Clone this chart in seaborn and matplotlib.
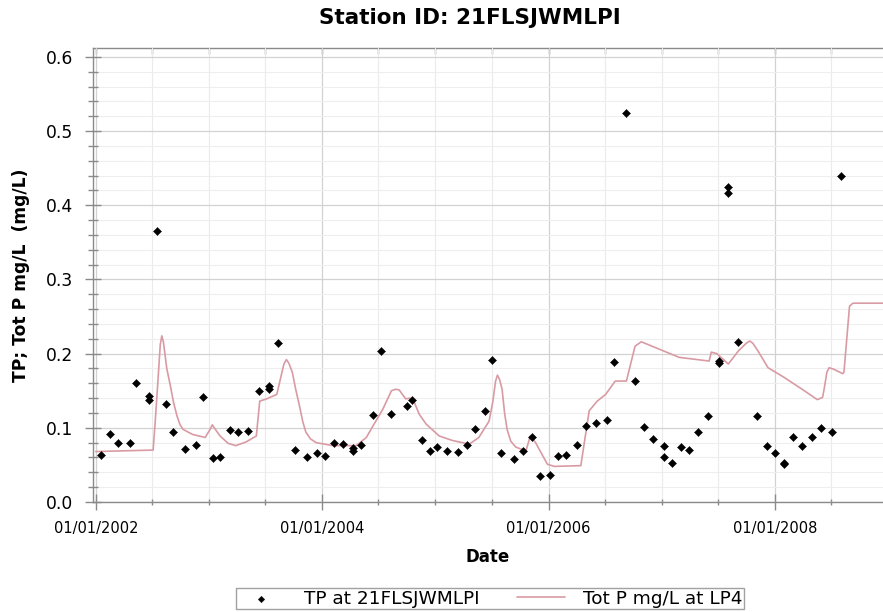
import numpy as np
import pandas as pd
import matplotlib
matplotlib.use("Agg")
import matplotlib.pyplot as plt
import matplotlib.dates as mdates
from matplotlib.ticker import MultipleLocator, FormatStrFormatter
import seaborn as sns

# ---------------- data ----------------
obs_dates = [
    "2002-01-19", "2002-02-15", "2002-03-15", "2002-04-20", "2002-05-12",
    "2002-06-21", "2002-06-21", "2002-07-18", "2002-08-15", "2002-09-06",
    "2002-10-16", "2002-11-21", "2002-12-13", "2003-01-15", "2003-02-06",
    "2003-03-11", "2003-04-05", "2003-05-08", "2003-06-10", "2003-07-13",
    "2003-07-13", "2003-08-11", "2003-10-05", "2003-11-14", "2003-12-17",
    "2004-01-12", "2004-02-10", "2004-03-10", "2004-04-09", "2004-04-09",
    "2004-05-07", "2004-06-14", "2004-07-08", "2004-08-12", "2004-09-30",
    "2004-10-18", "2004-11-18", "2004-12-14", "2005-01-06", "2005-02-08",
    "2005-03-15", "2005-04-13", "2005-05-09", "2005-06-10", "2005-07-04",
    "2005-08-01", "2005-09-10", "2005-10-11", "2005-11-08", "2005-12-03",
    "2006-01-06", "2006-01-30", "2006-02-26", "2006-04-02", "2006-05-01",
    "2006-06-03", "2006-07-08", "2006-07-31", "2006-09-08", "2006-10-07",
    "2006-11-05", "2006-12-03", "2007-01-08", "2007-01-08", "2007-02-03",
    "2007-03-04", "2007-03-29", "2007-04-27", "2007-05-30", "2007-07-06",
    "2007-07-06", "2007-08-03", "2007-08-03", "2007-09-03", "2007-11-03",
    "2007-12-06", "2008-01-01", "2008-01-30", "2008-01-30", "2008-03-01",
    "2008-03-28", "2008-05-01", "2008-05-28", "2008-07-02", "2008-07-31",
]
obs_tp = [
    0.063, 0.091, 0.079, 0.080, 0.161,
    0.143, 0.138, 0.365, 0.132, 0.094,
    0.071, 0.077, 0.141, 0.059, 0.060,
    0.097, 0.095, 0.096, 0.150, 0.157,
    0.152, 0.214, 0.070, 0.061, 0.066,
    0.062, 0.079, 0.078, 0.073, 0.069,
    0.077, 0.117, 0.204, 0.119, 0.130,
    0.138, 0.084, 0.069, 0.074, 0.069,
    0.068, 0.077, 0.098, 0.122, 0.191,
    0.066, 0.058, 0.069, 0.088, 0.035,
    0.037, 0.062, 0.064, 0.077, 0.102,
    0.107, 0.110, 0.189, 0.524, 0.163,
    0.101, 0.085, 0.075, 0.061, 0.053,
    0.074, 0.070, 0.095, 0.116, 0.190,
    0.187, 0.425, 0.417, 0.216, 0.116,
    0.075, 0.066, 0.053, 0.051, 0.087,
    0.075, 0.087, 0.100, 0.094, 0.439,
]

model_dates = [
    "2002-01-01", "2002-07-05", "2002-07-12", "2002-07-20", "2002-07-28",
    "2002-08-02", "2002-08-07", "2002-08-12", "2002-08-18", "2002-08-29",
    "2002-09-09", "2002-09-20", "2002-09-29", "2002-10-09", "2002-10-27",
    "2002-11-10", "2002-12-20", "2003-01-05", "2003-01-12", "2003-01-20",
    "2003-02-06", "2003-03-04", "2003-03-29", "2003-05-01", "2003-06-03",
    "2003-06-14", "2003-07-06", "2003-08-08", "2003-08-22", "2003-08-31",
    "2003-09-08", "2003-09-16", "2003-09-27", "2003-10-08", "2003-10-20",
    "2003-10-31", "2003-11-10", "2003-11-25", "2003-12-13", "2004-02-05",
    "2004-04-20", "2004-05-23", "2004-06-14", "2004-07-15", "2004-08-12",
    "2004-08-25", "2004-09-06", "2004-09-27", "2004-10-10", "2004-10-23",
    "2004-11-10", "2004-12-02", "2005-01-13", "2005-02-24", "2005-04-20",
    "2005-05-21", "2005-06-23", "2005-07-05", "2005-07-14", "2005-07-20",
    "2005-07-27", "2005-08-04", "2005-08-12", "2005-08-20", "2005-09-01",
    "2005-09-17", "2005-10-20", "2005-11-03", "2005-11-20", "2005-12-28",
    "2006-01-19", "2006-04-15", "2006-05-12", "2006-06-07", "2006-07-04",
    "2006-08-04", "2006-09-09", "2006-10-07", "2006-10-27", "2007-02-26",
    "2007-06-03", "2007-06-10", "2007-06-28", "2007-08-04", "2007-09-06",
    "2007-10-01", "2007-10-12", "2007-10-22", "2007-11-07", "2007-12-10",
    "2008-01-31", "2008-04-05", "2008-05-17", "2008-06-03", "2008-06-08",
    "2008-06-17", "2008-06-24", "2008-07-09", "2008-08-07", "2008-08-11",
    "2008-08-29", "2008-09-09", "2008-12-16",
]
model_tp = [
    0.068, 0.070, 0.110, 0.160, 0.212,
    0.224, 0.216, 0.200, 0.180, 0.158,
    0.134, 0.116, 0.105, 0.098, 0.094,
    0.091, 0.087, 0.098, 0.104, 0.099,
    0.089, 0.079, 0.076, 0.081, 0.089,
    0.136, 0.139, 0.145, 0.170, 0.186,
    0.192, 0.187, 0.175, 0.152, 0.130,
    0.108, 0.094, 0.085, 0.080, 0.076,
    0.076, 0.087, 0.103, 0.125, 0.150,
    0.152, 0.151, 0.139, 0.140, 0.136,
    0.118, 0.105, 0.089, 0.083, 0.078,
    0.087, 0.109, 0.135, 0.163, 0.171,
    0.165, 0.152, 0.120, 0.098, 0.082,
    0.074, 0.069, 0.089, 0.080, 0.051,
    0.048, 0.049, 0.123, 0.136, 0.145,
    0.163, 0.163, 0.210, 0.216, 0.195,
    0.190, 0.202, 0.200, 0.186, 0.204,
    0.214, 0.217, 0.214, 0.204, 0.181,
    0.168, 0.150, 0.138, 0.141, 0.152,
    0.175, 0.181, 0.179, 0.173, 0.175,
    0.264, 0.268, 0.268,
]

title = "Station ID: 21FLSJWMLPI"
obs_label = "TP at 21FLSJWMLPI"
model_label = "Tot P mg/L at LP4"
x_label = "Date"
y_label = "TP; Tot P mg/L  (mg/L)"

obs = pd.DataFrame({"date": pd.to_datetime(obs_dates), "tp": obs_tp})
model = pd.DataFrame({"date": pd.to_datetime(model_dates), "tp": model_tp})

# ---------------- style ----------------
sns.set_theme(style="white")
plt.rcParams["font.family"] = ["DejaVu Sans"]
plt.rcParams["text.color"] = "black"
plt.rcParams["axes.labelcolor"] = "black"
plt.rcParams["xtick.color"] = "black"
plt.rcParams["ytick.color"] = "black"

W, H = 883, 612
fig = plt.figure(figsize=(W / 100, H / 100), dpi=100)
ax = fig.add_axes([93 / W, 1 - 502 / H, (W - 93) / W, (502 - 48) / H])

spine_c = "#8a8a8a"

sns.lineplot(data=model, x="date", y="tp", ax=ax, color="#d99ba3",
             linewidth=1.2, label=model_label, sort=False, zorder=3)
sns.scatterplot(data=obs, x="date", y="tp", ax=ax, marker="D", s=17,
                color="black", edgecolor="black", linewidth=0.3,
                label=obs_label, zorder=4)

ax.set_xlim(pd.Timestamp("2001-12-23"), pd.Timestamp("2008-12-15"))
ax.set_ylim(0, 0.612)

ax.xaxis.set_major_locator(mdates.YearLocator(2))
ax.xaxis.set_major_formatter(mdates.DateFormatter("%m/%d/%Y"))
ax.xaxis.set_minor_locator(mdates.MonthLocator(bymonth=(1, 7)))
ax.yaxis.set_major_locator(MultipleLocator(0.1))
ax.yaxis.set_minor_locator(MultipleLocator(0.02))
ax.yaxis.set_major_formatter(FormatStrFormatter("%.1f"))

ax.grid(which="major", axis="y", color="#d2d2d2", linewidth=0.9)
ax.grid(which="minor", axis="y", color="#eeeeee", linewidth=0.8)
ax.grid(which="major", axis="x", color="#d2d2d2", linewidth=0.9)
ax.grid(which="minor", axis="x", color="#ebebeb", linewidth=0.8)
ax.set_axisbelow(True)

for s in ["left", "bottom"]:
    ax.spines[s].set_color(spine_c)
    ax.spines[s].set_linewidth(1.0)
ax.spines["right"].set_visible(False)
ax.spines["top"].set_visible(False)

ax.tick_params(axis="y", which="major", direction="inout", length=12,
               width=1, color=spine_c, labelcolor="black", labelsize=12.3,
               pad=8, left=True)
ax.tick_params(axis="y", which="minor", direction="inout", length=7,
               width=1, color=spine_c, left=True)
ax.tick_params(axis="x", which="major", direction="inout", length=11,
               width=1, color=spine_c, labelcolor="black", labelsize=10.5,
               pad=8, bottom=True)
ax.tick_params(axis="x", which="minor", direction="inout", length=5,
               width=1, color=spine_c, bottom=True)

sec = ax.secondary_xaxis("top")
sec.xaxis.set_major_locator(mdates.MonthLocator(bymonth=(1, 7)))
sec.tick_params(axis="x", which="major", direction="in", length=4,
                width=1, color=spine_c, labeltop=False)
sec.spines["top"].set_color(spine_c)
sec.spines["top"].set_linewidth(1.0)

ax.set_xlabel(x_label, fontsize=12, fontweight="bold", labelpad=9)
ax.set_ylabel(y_label, fontsize=12.3, fontweight="bold", labelpad=12)

fig.text(470 / W, 1 - 18 / H, title, ha="center", va="center",
         fontsize=15.5, fontweight="bold", color="black")

handles, labels = ax.get_legend_handles_labels()
order = [labels.index(obs_label), labels.index(model_label)]
if ax.legend_:
    ax.legend_.remove()
leg = fig.legend([handles[i] for i in order], [labels[i] for i in order],
                 loc="center", bbox_to_anchor=(490 / W, 1 - 598.5 / H),
                 ncol=2, fontsize=13.3, frameon=True, fancybox=False,
                 edgecolor="#8a8a8a", borderpad=0.1, handlelength=2.6,
                 handletextpad=1.0, columnspacing=2.0, markerscale=0.8,
                 borderaxespad=0)
leg.get_frame().set_linewidth(1.0)

fig.savefig("out.png", dpi=100)
